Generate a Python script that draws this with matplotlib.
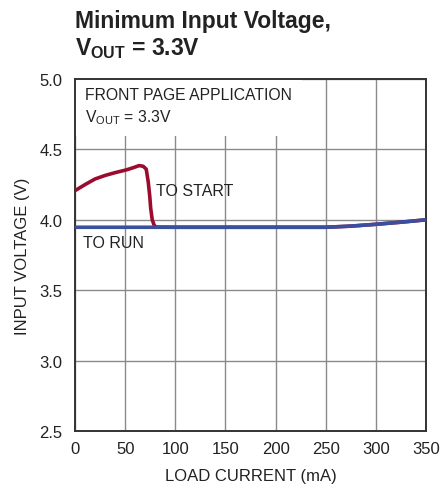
import matplotlib
matplotlib.use('Agg')
import matplotlib.pyplot as plt

plt.rcParams['font.family'] = ['Liberation Sans', 'DejaVu Sans']
plt.rcParams['mathtext.fontset'] = 'custom'
plt.rcParams['mathtext.rm'] = 'Liberation Sans'
plt.rcParams['mathtext.bf'] = 'Liberation Sans:bold'

# to start curve (mA, V)
start_i = [0, 10, 20, 30, 40, 51, 58, 64, 68, 71, 73, 74.5, 75.5, 77, 79, 81, 100, 150, 200, 250, 275, 300, 325, 350]
start_v = [4.207, 4.25, 4.29, 4.315, 4.335, 4.354, 4.37, 4.385, 4.38, 4.36, 4.27, 4.17, 4.08, 4.00, 3.96, 3.948,
           3.947, 3.947, 3.947, 3.947, 3.955, 3.968, 3.983, 4.0]
# to run curve
run_i = [0, 50, 100, 150, 200, 250, 275, 300, 325, 350]
run_v = [3.947, 3.947, 3.947, 3.947, 3.947, 3.947, 3.955, 3.968, 3.983, 4.0]

RED = '#9b0b2e'
BLUE = '#3a4fa0'
INK = '#222222'

fig = plt.figure(figsize=(4.42, 4.89), dpi=100)
ax = fig.add_axes([0.1697, 0.1166, 0.7941, 0.7198])

ax.plot(start_i, start_v, color=RED, lw=2.6, solid_capstyle='butt', zorder=3)
ax.plot(run_i, run_v, color=BLUE, lw=2.6, solid_capstyle='butt', zorder=4)

ax.set_xlim(0, 350)
ax.set_ylim(2.5, 5.0)
ax.set_xticks(range(0, 351, 50))
ax.set_yticks([2.5, 3.0, 3.5, 4.0, 4.5, 5.0])
ax.set_yticklabels(['2.5', '3.0', '3.5', '4.0', '4.5', '5.0'])
ax.grid(True, color='#8a8a8a', lw=1.0)
ax.set_axisbelow(True)
for s in ax.spines.values():
    s.set_color('#333333')
    s.set_linewidth(1.4)
ax.tick_params(axis='x', length=0, labelsize=12, pad=7, colors=INK)
ax.tick_params(axis='y', length=0, labelsize=12, pad=9, colors=INK)

ax.set_xlabel('LOAD CURRENT (mA)', fontsize=12, color=INK, labelpad=9)
ax.set_ylabel('INPUT VOLTAGE (V)', fontsize=12, color=INK, labelpad=7)

ax.text(10, 4.805, 'FRONT PAGE APPLICATION\nV$_{\\mathregular{OUT}}$ = 3.3V', fontsize=11.3, color=INK,
        va='center', ha='left', linespacing=1.4, zorder=1,
        bbox=dict(facecolor='white', edgecolor='none', pad=7))
ax.text(81, 4.205, 'TO START', fontsize=11.5, color=INK, va='center', ha='left')
ax.text(8, 3.84, 'TO RUN', fontsize=11.5, color=INK, va='center', ha='left')

fig.text(0.1697, 0.957, 'Minimum Input Voltage,', fontsize=16.5, fontweight='bold', color=INK,
         va='center', ha='left')
fig.text(0.1697, 0.900, 'V$_{\\mathbf{OUT}}$ = 3.3V', fontsize=16.5, fontweight='bold', color=INK,
         va='center', ha='left')

fig.savefig('out.png', dpi=100)
